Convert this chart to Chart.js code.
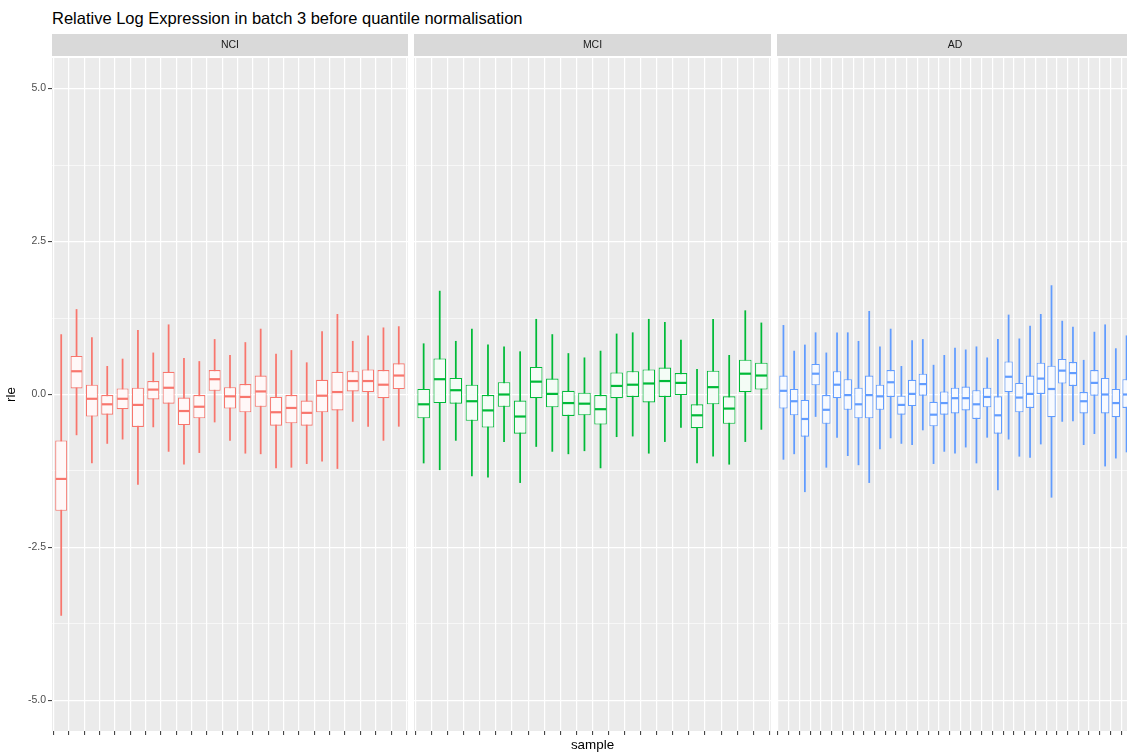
<!DOCTYPE html>
<html>
<head>
<meta charset="utf-8">
<script src="https://cdn.jsdelivr.net/npm/chart.js@4.4.1/dist/chart.umd.min.js"></script>
<style>
  html, body { margin: 0; padding: 0; background: #FFFFFF; }
  #fig { position: relative; width: 1127px; height: 755px; overflow: hidden; background: #FFFFFF; }
  #fig canvas { position: absolute; top: 0; }
  #title {
    position: absolute; left: 52px; top: 10px; margin: 0;
    font: 16.5px/16px "Liberation Sans", Arial, sans-serif; color: #000000; white-space: nowrap;
  }
</style>
</head>
<body>
<div id="fig">
  <div id="title">Relative Log Expression in batch 3 before quantile normalisation</div>
  <canvas id="nci" width="408" height="755" style="left:0px"></canvas>
  <canvas id="mci" width="357" height="755" style="left:414px"></canvas>
  <canvas id="ad" width="356" height="755" style="left:777px"></canvas>
</div>
<script>
// Group names (facet labels)
const groups = ['NCI', 'MCI', 'AD'];

// Y axis: ticks every 1.25 (labels only on the 2.5 steps)
const yTickValues = [-5, -3.75, -2.5, -1.25, 0, 1.25, 2.5, 3.75, 5];

// Boxplot statistics per sample: lower whisker, Q1, median, Q3, upper whisker
const nciLow  = [-3.61, -0.66, -1.12, -0.80, -0.73, -1.47, -0.53, -0.93, -1.14, -0.95, -0.45, -0.75, -0.96, -0.97, -1.20, -1.19, -1.13, -1.09, -1.21, -0.44, -0.52, -0.75, -0.52];
const nciQ1   = [-1.90, 0.10, -0.36, -0.33, -0.24, -0.53, -0.08, -0.15, -0.50, -0.39, 0.06, -0.23, -0.29, -0.20, -0.51, -0.47, -0.51, -0.29, -0.26, 0.05, 0.04, -0.06, 0.09];
const nciMed  = [-1.38, 0.38, -0.07, -0.16, -0.07, -0.17, 0.08, 0.11, -0.27, -0.20, 0.25, -0.03, -0.04, 0.05, -0.29, -0.22, -0.30, -0.02, 0.04, 0.22, 0.22, 0.16, 0.31];
const nciQ3   = [-0.75, 0.63, 0.16, -0.01, 0.10, 0.11, 0.22, 0.37, -0.05, -0.01, 0.40, 0.12, 0.17, 0.31, -0.04, 0.00, -0.10, 0.24, 0.37, 0.38, 0.41, 0.40, 0.51];
const nciHigh = [0.98, 1.39, 0.93, 0.46, 0.58, 1.05, 0.68, 1.14, 0.59, 0.54, 0.90, 0.64, 0.85, 1.07, 0.66, 0.72, 0.52, 1.03, 1.31, 0.87, 0.96, 1.09, 1.11];

const mciLow  = [-1.12, -1.23, -0.75, -1.33, -1.35, -0.77, -1.44, -0.85, -0.93, -0.97, -0.92, -1.20, -0.69, -0.68, -0.96, -0.77, -0.54, -1.12, -1.01, -1.14, -0.77, -0.57];
const mciQ1   = [-0.39, -0.14, -0.15, -0.43, -0.54, -0.20, -0.64, -0.06, -0.21, -0.35, -0.34, -0.49, -0.06, -0.04, -0.13, -0.04, -0.01, -0.55, -0.16, -0.48, 0.04, 0.08];
const mciMed  = [-0.16, 0.25, 0.07, -0.11, -0.26, 0.00, -0.36, 0.21, 0.01, -0.14, -0.15, -0.24, 0.14, 0.16, 0.18, 0.22, 0.19, -0.34, 0.12, -0.23, 0.34, 0.31];
const mciQ3   = [0.09, 0.59, 0.27, 0.16, -0.01, 0.20, -0.10, 0.45, 0.26, 0.06, 0.03, -0.01, 0.36, 0.38, 0.41, 0.44, 0.35, -0.16, 0.39, -0.03, 0.57, 0.52];
const mciHigh = [0.83, 1.69, 0.87, 1.07, 0.81, 0.78, 0.70, 1.23, 0.98, 0.67, 0.60, 0.71, 0.99, 1.01, 1.23, 1.18, 0.89, 0.41, 1.23, 0.64, 1.37, 1.17];

const adLow  = [-1.06, -0.97, -1.59, -0.36, -1.19, -0.70, -1.00, -1.15, -1.44, -0.89, -0.71, -0.80, -0.82, -0.58, -1.13, -0.93, -0.96, -0.86, -1.12, -0.70, -1.56, -0.73, -1.01, -1.03, -0.81, -1.68, -0.44, -0.43, -0.82, -0.64, -1.17, -1.04, -0.94];
const adQ1   = [-0.23, -0.34, -0.69, 0.15, -0.48, -0.06, -0.25, -0.39, -0.39, -0.25, -0.04, -0.33, -0.19, -0.02, -0.52, -0.33, -0.31, -0.26, -0.40, -0.21, -0.64, 0.04, -0.29, -0.22, 0.00, -0.37, 0.18, 0.14, -0.31, -0.02, -0.31, -0.37, -0.22];
const adMed  = [0.06, -0.11, -0.40, 0.34, -0.25, 0.16, -0.01, -0.16, -0.01, -0.03, 0.20, -0.17, 0.01, 0.17, -0.33, -0.14, -0.06, -0.06, -0.16, -0.04, -0.34, 0.29, -0.05, 0.01, 0.26, 0.09, 0.39, 0.35, -0.11, 0.19, 0.00, -0.14, 0.00];
const adQ3   = [0.31, 0.09, -0.09, 0.50, -0.01, 0.38, 0.25, 0.11, 0.31, 0.16, 0.40, -0.02, 0.24, 0.34, -0.12, 0.05, 0.11, 0.13, 0.07, 0.11, -0.03, 0.54, 0.19, 0.31, 0.52, 0.47, 0.58, 0.53, 0.04, 0.40, 0.27, 0.09, 0.25];
const adHigh = [1.13, 0.71, 0.81, 1.01, 0.68, 1.01, 1.01, 0.87, 1.36, 0.78, 1.07, 0.46, 0.88, 0.90, 0.48, 0.64, 0.76, 0.73, 0.78, 0.60, 0.90, 1.30, 0.91, 1.12, 1.31, 1.78, 1.20, 1.10, 0.56, 1.02, 1.14, 0.75, 0.96];

const FONT = '"Liberation Sans", Arial, sans-serif';
const isMajor = v => Math.abs(v / 2.5 - Math.round(v / 2.5)) < 1e-9;

// Panel background, facet strip and median bars
function facetPlugin(label, medians, color) {
  return {
    id: 'facet',
    beforeDraw(chart) {
      const { ctx, chartArea: a } = chart;
      ctx.save();
      ctx.fillStyle = '#EBEBEB';
      ctx.fillRect(a.left, a.top, a.right - a.left, a.bottom - a.top);
      ctx.fillStyle = '#D9D9D9';
      ctx.fillRect(a.left, 34, a.right - a.left, 22);
      ctx.fillStyle = '#1A1A1A';
      ctx.font = '10.5px ' + FONT;
      ctx.textAlign = 'center';
      ctx.textBaseline = 'middle';
      ctx.fillText(label, (a.left + a.right) / 2, 45);
      ctx.restore();
    },
    afterDatasetsDraw(chart) {
      const { ctx } = chart;
      const yScale = chart.scales.y;
      const meta = chart.getDatasetMeta(0);
      ctx.save();
      ctx.strokeStyle = color;
      ctx.lineWidth = 2.2;
      meta.data.forEach((bar, i) => {
        const { x, width } = bar.getProps(['x', 'width'], true);
        const py = yScale.getPixelForValue(medians[i]);
        ctx.beginPath();
        ctx.moveTo(x - width / 2 + 0.6, py);
        ctx.lineTo(x + width / 2 - 0.6, py);
        ctx.stroke();
      });
      ctx.restore();
    }
  };
}

function makePanel(canvasId, label, low, q1, med, q3, high, color, fill, opts) {
  const n = med.length;
  const idx = med.map((_, i) => i);
  const boxes = idx.map(i => ({ x: i, y: [q1[i], q3[i]] }));
  const whiskers = idx.map(i => ({ x: i, y: [low[i], high[i]] }));

  return new Chart(document.getElementById(canvasId), {
    type: 'bar',
    data: {
      datasets: [
        {
          label: label + ' box',
          data: boxes,
          backgroundColor: fill,
          borderColor: color,
          borderWidth: 1.1,
          borderSkipped: false,
          grouped: false,
          categoryPercentage: 1,
          barPercentage: 0.78
        },
        {
          label: label + ' whisker',
          data: whiskers,
          backgroundColor: color,
          borderWidth: 0,
          grouped: false,
          barThickness: 1.1
        }
      ]
    },
    options: {
      responsive: false,
      animation: false,
      devicePixelRatio: 1,
      layout: { padding: { top: 58, right: 0, bottom: 0, left: 0 } },
      plugins: { legend: { display: false }, tooltip: { enabled: false }, title: { display: false } },
      scales: {
        x: {
          type: 'linear',
          min: -0.6,
          max: n - 0.4,
          offset: false,
          bounds: 'data',
          afterBuildTicks: s => { s.ticks = idx.map(v => ({ value: v })); },
          afterFit: s => { s.height = 24; },
          border: { display: false },
          grid: { color: '#FFFFFF', lineWidth: 1.2, drawTicks: true, tickLength: 4, tickColor: '#333333', tickWidth: 1 },
          ticks: { display: false },
          title: {
            display: !!opts.xTitle,
            text: opts.xTitle || '',
            color: '#000000',
            font: { family: FONT, size: 13.4 },
            padding: { top: 0, bottom: 2 }
          }
        },
        y: {
          min: -5.5,
          max: 5.5,
          bounds: 'data',
          afterBuildTicks: s => { s.ticks = yTickValues.map(v => ({ value: v })); },
          afterFit: s => { s.width = opts.showY ? 52 : 0; },
          border: { display: false },
          grid: {
            color: '#FFFFFF',
            lineWidth: c => (c.tick && isMajor(c.tick.value)) ? 1.2 : 0.6,
            drawTicks: !!opts.showY,
            tickLength: 4,
            tickWidth: 1,
            tickColor: c => (c.tick && isMajor(c.tick.value)) ? '#333333' : 'rgba(0,0,0,0)'
          },
          ticks: {
            display: !!opts.showY,
            autoSkip: false,
            padding: 2,
            color: '#4D4D4D',
            font: { family: FONT, size: 10.5 },
            callback: v => isMajor(v) ? v.toFixed(1) : ''
          },
          title: {
            display: !!opts.showY,
            text: 'rle',
            color: '#000000',
            font: { family: FONT, size: 13.4 },
            padding: { top: 3.5, bottom: 0 }
          }
        }
      }
    },
    plugins: [facetPlugin(label, med, color)]
  });
}

makePanel('nci', groups[0], nciLow, nciQ1, nciMed, nciQ3, nciHigh, '#F8766D', '#FFF8F8', { showY: true });
makePanel('mci', groups[1], mciLow, mciQ1, mciMed, mciQ3, mciHigh, '#00BA38', '#F4FCF6', { xTitle: 'sample' });
makePanel('ad', groups[2], adLow, adQ1, adMed, adQ3, adHigh, '#619CFF', '#F7FAFF', {});
</script>
</body>
</html>
